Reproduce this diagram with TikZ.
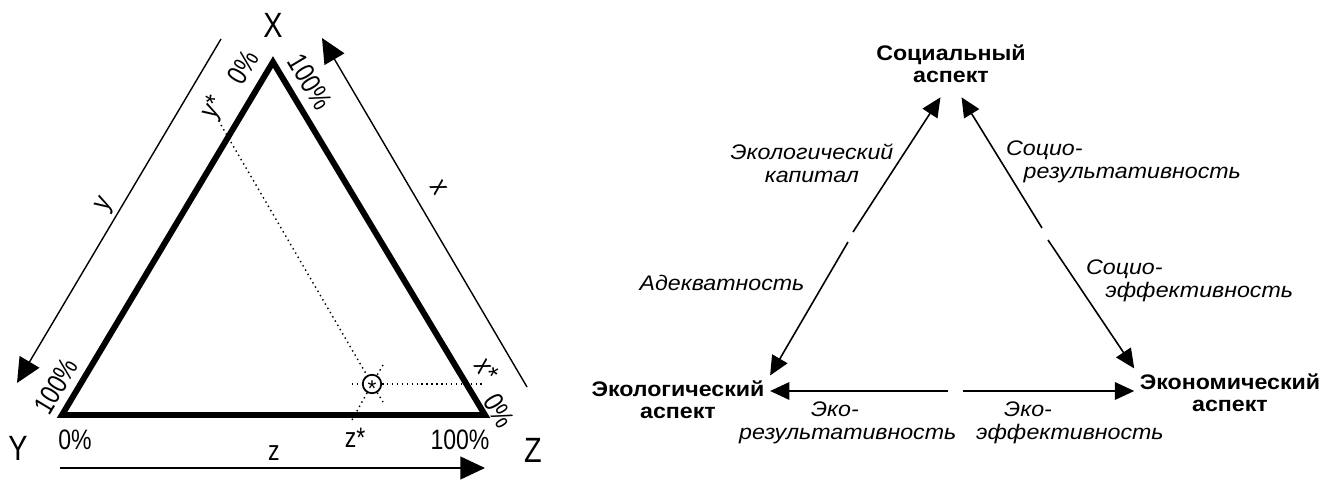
\documentclass[tikz,border=0pt]{standalone}
\usepackage{fontspec}
\setmainfont{Liberation Sans}
\newfontfamily\narrowfont[FakeStretch=0.82]{Liberation Sans}
\newfontfamily\widefont[FakeStretch=1.1]{Liberation Sans}
\usetikzlibrary{arrows.meta,calc,positioning}

\begin{document}
\begin{tikzpicture}[x=0.02cm, y=-0.02cm,
    edge/.style={line width=3.4pt, line join=miter},
    axis/.style={-{Triangle[length=14pt,width=13pt]}, line width=0.8pt},
    dots/.style={dotted, line width=0.8pt},
    lbl/.style={font=\narrowfont\fontsize{16}{18}\selectfont, inner sep=1pt},
    vtx/.style={font=\narrowfont\fontsize{20}{22}\selectfont, inner sep=1pt},
    aspect/.style={font=\widefont\bfseries\fontsize{12}{12.5}\selectfont, align=center, inner sep=3pt},
    rel/.style={font=\widefont\itshape\fontsize{12}{13}\selectfont, inner sep=1pt},
    arr/.style={-{Triangle[length=11pt,width=10pt]}, line width=0.9pt}
]
\useasboundingbox (0,0) rectangle (1335,482);

% ternary triangle
\coordinate (X) at (273,62);
\coordinate (Y) at (62,415);
\coordinate (Z) at (485,415);
\draw[edge] (X) -- (Y) -- (Z) -- cycle;

\node[vtx] (lX) at (273,25) {X};
\node[vtx] (lY) at (18,448) {Y};
\node[vtx] (lZ) at (533,450) {Z};

% axes along the sides
\coordinate (ya) at (221,39);  \coordinate (yb) at (17,383);
\coordinate (xa) at (527,387); \coordinate (xb) at (322,38);
\coordinate (za) at (60,468);  \coordinate (zb) at (485,468);
\draw[axis] (ya) -- (yb);
\draw[axis] (xa) -- (xb);
\draw[axis] (za) -- (zb);

\node[lbl, rotate=59] (ylab) at (106,205) {y};
\node[lbl, rotate=-59] (xlab) at (439,188) {x};
\node[lbl] (zlab) at (274,453) {z};

\node[lbl, rotate=59] (y0) at (243,67) {0\%};
\node[lbl, rotate=59] (ystar) at (214,108) {y*};
\node[lbl, rotate=59] (y100) at (56,386) {100\%};
\node[lbl, rotate=-59] (x100) at (310,82) {100\%};
\node[lbl, rotate=-59] (xstar) at (487,369) {x*};
\node[lbl, rotate=-59] (x0) at (499,411) {0\%};
\node[lbl] (z0) at (75,440) {0\%};
\node[lbl] (zstar) at (355,438) {z*};
\node[lbl] (z100) at (460,440) {100\%};

% the point and its lines
\node[draw, circle, line width=1pt, minimum size=10.5pt, inner sep=0pt,
      font=\fontsize{13}{13}\selectfont] (P) at (372,384) {\raisebox{-0.56em}[0pt][0pt]{*}};
\coordinate (h1) at (352,384); \coordinate (h2) at (485,384);
\coordinate (ys) at (221,125); \coordinate (ye) at (383,402);
\coordinate (zs) at (383,365); \coordinate (ze) at (352,420);
\draw[dots] (h1) -- (P) -- (h2);
\draw[dots] (ys) -- (P) -- (ye);
\draw[dots] (zs) -- (P) -- (ze);

% aspects
\node[aspect] (soc) at (951,64) {Социальный\\аспект};
\node[aspect] (eco) at (678,400) {Экологический\\аспект};
\node[aspect] (econ) at (1230,393) {Экономический\\аспект};

\coordinate (gL1) at (853,232);  \coordinate (gL2) at (848,242);
\coordinate (gR1) at (1042,228); \coordinate (gR2) at (1048,240);
\coordinate (gB1) at (948,391);  \coordinate (gB2) at (963,391);

\draw[arr] (gL1) -- ([xshift=-6pt,yshift=-5pt]soc.south);
\draw[arr] (gL2) -- (eco.north east);
\draw[arr] (gR1) -- ([xshift=6pt,yshift=-5pt]soc.south);
\draw[arr] (gR2) -- (econ.north west);
\draw[arr] (gB1) -- (gB1 -| eco.east);
\draw[arr] (gB2) -- (gB2 -| econ.west);

\node[rel, align=center] (capital) at (812,163) {Экологический\\капитал};
\node[rel] (adeq) at (722,283) {Адекватность};
\node[rel, align=left, anchor=west] (socres) at (1004,162) {Социо-\\\hspace*{10pt}результативность};
\node[rel, align=left, anchor=west] (soceff) at (1084,281) {Социо-\\\hspace*{11pt}эффективность};
\node[rel, align=left, anchor=west] (ecores) at (737,423) {\hspace*{41pt}Эко-\\результативность};
\node[rel, align=left, anchor=west] (ecoeff) at (974,423) {\hspace*{16pt}Эко-\\эффективность};
\end{tikzpicture}
\end{document}
